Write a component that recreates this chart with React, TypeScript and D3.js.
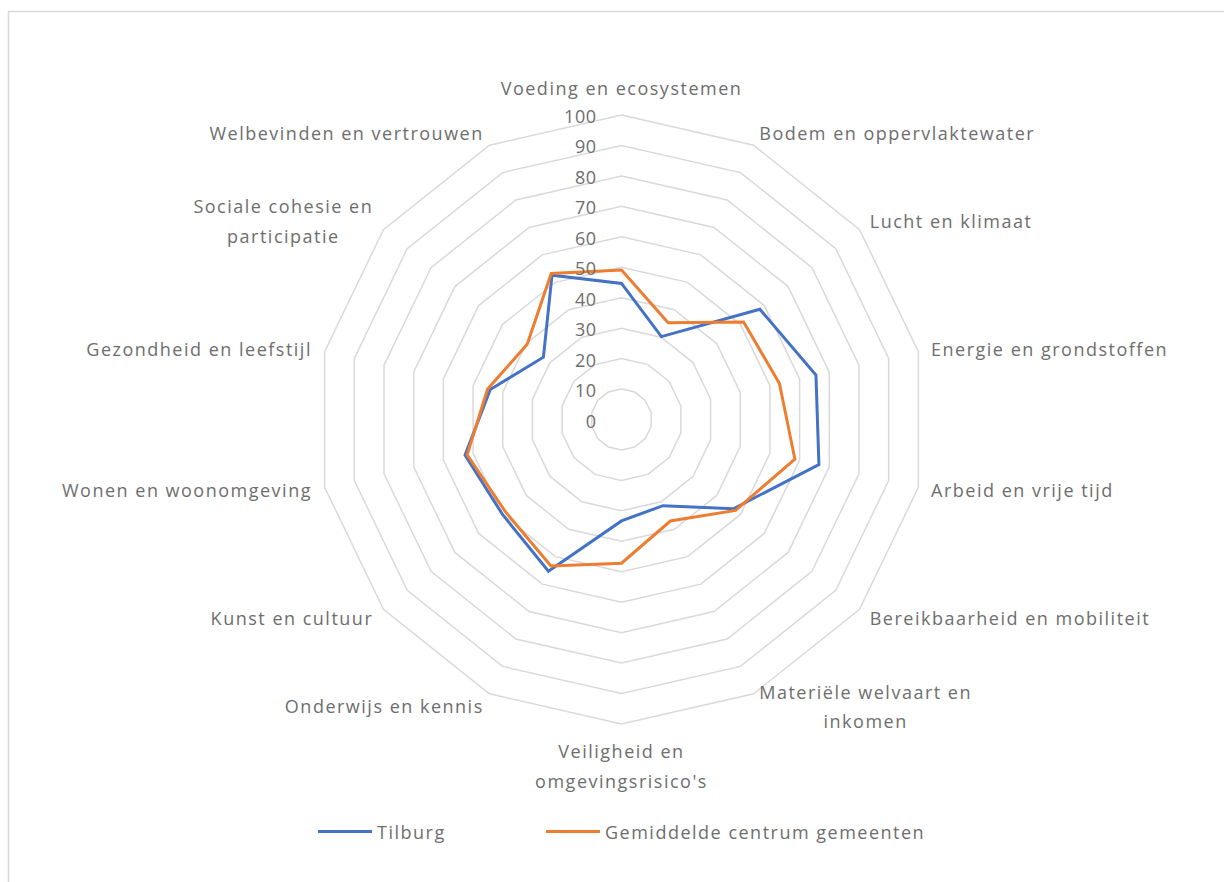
import React, { useEffect, useRef } from "react";
import * as d3 from "d3";

// categories, clockwise from the top
const categories = [
  "Voeding en ecosystemen",
  "Bodem en oppervlaktewater",
  "Lucht en klimaat",
  "Energie en grondstoffen",
  "Arbeid en vrije tijd",
  "Bereikbaarheid en mobiliteit",
  "Materiële welvaart en\ninkomen",
  "Veiligheid en\nomgevingsrisico's",
  "Onderwijs en kennis",
  "Kunst en cultuur",
  "Wonen en woonomgeving",
  "Gezondheid en leefstijl",
  "Sociale cohesie en\nparticipatie",
  "Welbevinden en vertrouwen",
];

const tilburg = [44.7, 30.2, 58.1, 65.5, 66.5, 47, 31.4, 33.3, 55.3, 50, 52.7, 44.2, 32.8, 52.6];
const gemiddelde = [49.1, 35.3, 51.3, 53.2, 58.4, 47.9, 37, 47.2, 53.4, 48.7, 52, 45.1, 39.6, 53.2];

const ticks = [0, 10, 20, 30, 40, 50, 60, 70, 80, 90, 100];

const seriesNames = ["Tilburg", "Gemiddelde centrum gemeenten"];
const seriesColors = ["#4472C4", "#ED7D31"];

const W = 1224;
const H = 882;
const cx = 621.5;
const cy = 419.5;
const R = 304.5;
const FONT = "'Open Sans', 'Liberation Sans', sans-serif";
const TEXT = "#6e6e6e";

const App = () => {
  const svgRef = useRef<SVGSVGElement>(null);

  useEffect(() => {
    const svg = d3.select(svgRef.current);
    svg.selectAll("*").remove();

    const n = categories.length;
    const angle = d3.scaleLinear().domain([0, n]).range([0, 2 * Math.PI]);
    const r = d3.scaleLinear().domain([0, 100]).range([0, R]);

    // chart area border
    svg
      .append("rect")
      .attr("x", 8.5)
      .attr("y", 11.5)
      .attr("width", 1400)
      .attr("height", 1000)
      .attr("fill", "#fff")
      .attr("stroke", "#d9d9d9")
      .attr("stroke-width", 1.5);

    const g = svg.append("g").attr("transform", `translate(${cx},${cy})`);

    // grid rings
    const ring = (t: number) =>
      d3
        .lineRadial<number>()
        .angle((_, i) => angle(i))
        .radius(() => r(t))
        .curve(d3.curveLinearClosed)(categories.map((_, i) => i));

    g.selectAll(".ring")
      .data(ticks.filter((t) => t > 0))
      .join("path")
      .attr("class", "ring")
      .attr("d", (t) => ring(t))
      .attr("fill", "none")
      .attr("stroke", "#d9d9d9")
      .attr("stroke-width", 1.5);

    // series lines
    const line = d3
      .lineRadial<number>()
      .angle((_, i) => angle(i))
      .radius((v) => r(v))
      .curve(d3.curveLinearClosed);

    g.selectAll(".series")
      .data([tilburg, gemiddelde])
      .join("path")
      .attr("class", "series")
      .attr("d", (d) => line(d))
      .attr("fill", "none")
      .attr("stroke", (_, i) => seriesColors[i])
      .attr("stroke-width", 3)
      .attr("stroke-linejoin", "miter");

    // tick labels
    g.selectAll(".tick")
      .data(ticks)
      .join("text")
      .attr("class", "tick")
      .attr("x", -25)
      .attr("y", (t) => -r(t) + 1)
      .attr("text-anchor", "end")
      .attr("dominant-baseline", "central")
      .attr("font-family", FONT)
      .attr("font-size", 18)
      .attr("letter-spacing", 0.5)
      .attr("fill", TEXT)
      .text((t) => t);

    // category labels
    categories.forEach((c, i) => {
      const a = angle(i);
      const s = Math.sin(a);
      const co = Math.cos(a);
      const vx = r(100) * s;
      const vy = -r(100) * co;
      const t = g
        .append("text")
        .attr("text-anchor", "middle")
        .attr("font-family", FONT)
        .attr("font-size", 18)
        .attr("letter-spacing", 1.5)
        .attr("fill", TEXT);
      c.split("\n").forEach((ln, k) => {
        t.append("tspan").attr("x", 0).attr("dy", k === 0 ? 0 : 29.5).text(ln);
      });
      const b = (t.node() as SVGTextElement).getBBox();
      let tx;
      if (s > 0.1) tx = vx + 13 * s - b.x;
      else if (s < -0.1) tx = vx + 13 * s - (b.x + b.width);
      else tx = vx - (b.x + b.width / 2);
      let ty;
      if (Math.abs(co) > 0.95) ty = co > 0 ? vy - 15 - (b.y + b.height) : vy + 15 - b.y;
      else ty = vy - 14 * co - (b.y + b.height / 2);
      t.attr("transform", `translate(${tx},${ty})`);
    });

    // legend
    const legendX = [318, 546];
    const leg = svg
      .selectAll(".legend")
      .data(seriesNames)
      .join("g")
      .attr("class", "legend")
      .attr("transform", (_, i) => `translate(${legendX[i]},831.5)`);
    leg
      .append("line")
      .attr("x1", 0)
      .attr("x2", 54)
      .attr("stroke", (_, i) => seriesColors[i])
      .attr("stroke-width", 3);
    leg
      .append("text")
      .attr("x", 59)
      .attr("dominant-baseline", "central")
      .attr("font-family", FONT)
      .attr("font-size", 18)
      .attr("letter-spacing", 1.5)
      .attr("fill", TEXT)
      .text((d) => d);
  }, []);

  return (
    <svg
      ref={svgRef}
      width={W}
      height={H}
      style={{ position: "absolute", left: 0, top: 0, background: "#fff" }}
    />
  );
};

export default App;
